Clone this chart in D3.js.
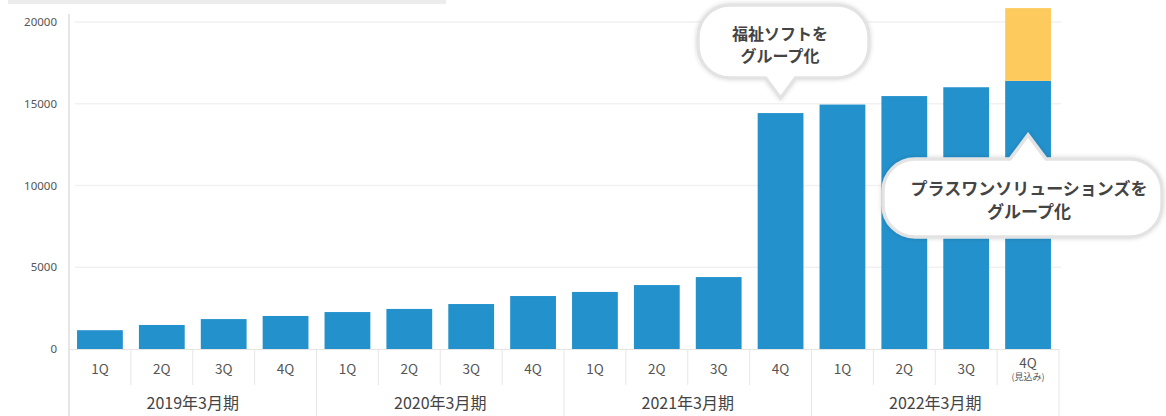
<!DOCTYPE html>
<html><head><meta charset="utf-8">
<script src="https://cdn.jsdelivr.net/npm/d3@7"></script>
<style>
html,body{margin:0;padding:0;background:#fff;}
svg{display:block;font-family:"Noto Sans CJK JP","Noto Sans",sans-serif;}
</style></head>
<body><svg id="c" width="1166" height="416"></svg>
<script>
const quarters = ["1Q","2Q","3Q","4Q","1Q","2Q","3Q","4Q","1Q","2Q","3Q","4Q","1Q","2Q","3Q","4Q"];
const years = ["2019年3月期","2020年3月期","2021年3月期","2022年3月期"];
const actual = [1150,1470,1830,2020,2260,2450,2750,3240,3490,3910,4400,14430,14950,15470,16010,16400];
const forecast = [0,0,0,0,0,0,0,0,0,0,0,0,0,0,0,4450];
const yTicks = [0,5000,10000,15000,20000];
const notes = [["福祉ソフトを","グループ化"],["プラスワンソリューションズを","グループ化"]];

const svg = d3.select("#c");
const pLeft = 69, pRight = 1059, pBase = 349, pTop = 22;
const idx = d3.range(quarters.length);
const x = d3.scaleBand().domain(idx).range([pLeft, pRight]).paddingInner(0.26).paddingOuter(0.13);
const y = d3.scaleLinear().domain([0,20000]).range([pBase, pTop]);
const step = x.step();

// top cut-off element
svg.append("rect").attr("x",8).attr("y",0).attr("width",438).attr("height",4).attr("fill","#ececec");

// gridlines
svg.append("g").selectAll("line").data(yTicks.slice(1)).join("line")
  .attr("x1",pLeft+6).attr("x2",pRight+2).attr("y1",d=>y(d)).attr("y2",d=>y(d))
  .attr("stroke","#f1f1f1").attr("stroke-width",1.5);

// y axis
const ya = svg.append("g").attr("transform",`translate(${pLeft},0)`)
  .call(d3.axisLeft(y).tickValues(yTicks).tickSize(0).tickPadding(12).tickFormat(d3.format("d")));
ya.select(".domain").remove();
ya.selectAll("text").attr("font-size",11.5).attr("fill","#555").attr("font-family","'Noto Sans', sans-serif");
svg.append("line").attr("x1",pLeft).attr("x2",pLeft).attr("y1",pTop-8).attr("y2",416)
  .attr("stroke","#dedede").attr("stroke-width",1.5);

// bars
svg.append("g").selectAll("rect").data(idx).join("rect")
  .attr("x",i=>x(i)).attr("width",x.bandwidth())
  .attr("y",i=>y(actual[i])).attr("height",i=>pBase-y(actual[i]))
  .attr("fill","#2391cc");
svg.append("g").selectAll("rect").data(idx.filter(i=>forecast[i]>0)).join("rect")
  .attr("x",i=>x(i)).attr("width",x.bandwidth())
  .attr("y",i=>y(actual[i]+forecast[i])).attr("height",i=>y(actual[i])-y(actual[i]+forecast[i]))
  .attr("fill","#fdca5e");

// baseline
svg.append("line").attr("x1",pLeft).attr("x2",pRight).attr("y1",pBase+0.5).attr("y2",pBase+0.5)
  .attr("stroke","#e4e4e4");

// separators
svg.append("g").selectAll("line").data(d3.range(1,quarters.length+1)).join("line")
  .attr("x1",i=>pLeft+i*step).attr("x2",i=>pLeft+i*step)
  .attr("y1",pBase).attr("y2",i=>i%4===0?416:385)
  .attr("stroke","#e6e6e6").attr("stroke-width",1);

// quarter labels
svg.append("g").selectAll("text").data(idx).join("text")
  .attr("x",i=>x(i)+x.bandwidth()/2).attr("y",i=>i===15?368:374)
  .attr("text-anchor","middle").attr("font-size",13.5).attr("fill","#555")
  .text(i=>quarters[i]);
svg.append("text").attr("x",x(15)+x.bandwidth()/2).attr("y",380)
  .attr("text-anchor","middle").attr("font-size",9).attr("fill","#555").text("(見込み)");

// year labels
svg.append("g").selectAll("text").data(years).join("text")
  .attr("x",(d,i)=>pLeft+(i*4+2)*step).attr("y",409)
  .attr("text-anchor","middle").attr("font-size",16).attr("fill","#444")
  .text(d=>d);

// bubbles
const defs = svg.append("defs");
const f = defs.append("filter").attr("id","sh").attr("x","-20%").attr("y","-30%").attr("width","140%").attr("height","160%");
f.append("feGaussianBlur").attr("in","SourceAlpha").attr("stdDeviation",2).attr("result","b");
f.append("feFlood").attr("flood-color","#000").attr("flood-opacity",0.16);
f.append("feComposite").attr("in2","b").attr("operator","in").attr("result","s");
const m = f.append("feMerge"); m.append("feMergeNode").attr("in","s"); m.append("feMergeNode").attr("in","SourceGraphic");

function bubble(x0,y0,x1,y1,r,tail){
  const p = d3.path();
  p.moveTo(x0+r,y0);
  if(tail.side==="top"){ p.lineTo(tail.cx-tail.w/2,y0); p.lineTo(tail.cx,tail.tip); p.lineTo(tail.cx+tail.w/2,y0); }
  p.lineTo(x1-r,y0); p.arcTo(x1,y0,x1,y0+r,r); p.lineTo(x1,y1-r); p.arcTo(x1,y1,x1-r,y1,r);
  if(tail.side==="bottom"){ p.lineTo(tail.cx+tail.w/2,y1); p.lineTo(tail.cx,tail.tip); p.lineTo(tail.cx-tail.w/2,y1); }
  p.lineTo(x0+r,y1); p.arcTo(x0,y1,x0,y1-r,r); p.lineTo(x0,y0+r); p.arcTo(x0,y0,x0+r,y0,r); p.closePath();
  return p.toString();
}
const b1 = {x0:698,y0:5,x1:869,y1:78,tx:780,ty:[40,62],fs:16,
  tail:{side:"bottom",cx:x(11)+x.bandwidth()/2,w:30,tip:y(actual[11])-15}};
const b2 = {x0:883,y0:159,x1:1162,y1:237,tx:1029,ty:[195,218],fs:17,
  tail:{side:"top",cx:x(15)+x.bandwidth()/2,w:36,tip:y(actual[15])+54}};
[b1,b2].forEach((b,k)=>{
  svg.append("path").attr("d",bubble(b.x0,b.y0,b.x1,b.y1,32,b.tail))
    .attr("fill","#fff").attr("stroke","#e3e3e3").attr("stroke-width",3.5).attr("filter","url(#sh)");
  notes[k].forEach((t,j)=>{
    svg.append("text").attr("x",b.tx).attr("y",b.ty[j]).attr("text-anchor","middle")
      .attr("font-size",b.fs).attr("font-weight",700).attr("fill","#444").text(t);
  });
});
</script></body></html>
